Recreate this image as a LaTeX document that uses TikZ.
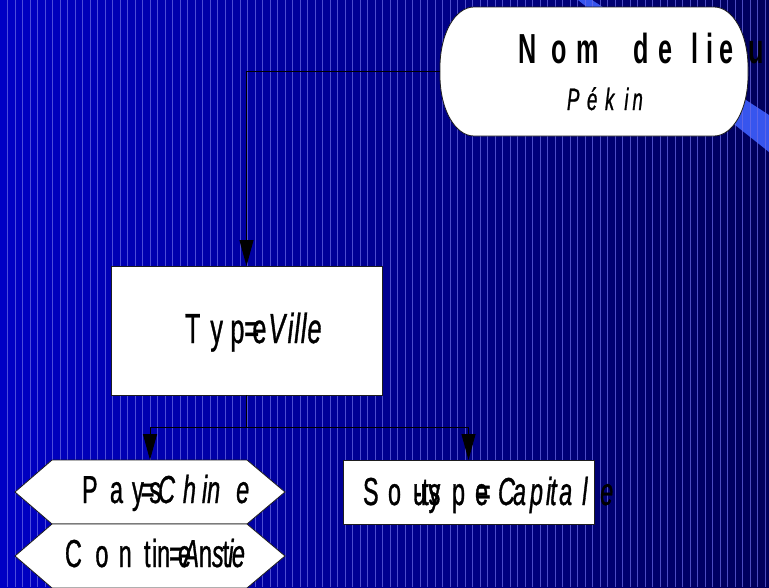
\documentclass[tikz,border=0pt]{standalone}
\usepackage{fontspec}
\usetikzlibrary{arrows.meta}
\newfontfamily\nf[FakeStretch=0.6,FakeBold=0.8]{Liberation Sans}
\newfontfamily\nfb[FakeStretch=0.6]{Liberation Sans}
\newcommand\hg[1]{\hspace{#1pt}}
\definecolor{bgL}{RGB}{0,0,196}
\definecolor{bgR}{RGB}{0,0,92}
\definecolor{stripecol}{RGB}{110,110,232}
\definecolor{wedgecol}{RGB}{55,85,238}
\definecolor{edgecol}{RGB}{30,30,30}
\begin{document}
\begin{tikzpicture}[x=1pt,y=-1pt,
  box/.style={draw=edgecol, line width=0.8pt, fill=white},
  ghost/.style={inner sep=0pt, outer sep=0pt},
  conn/.style={draw=black, line width=1pt},
  arr/.style={conn, -{Triangle[length=26pt,width=14pt]}},
  lbl/.style={anchor=base west, inner sep=0pt, outer sep=0pt, text=black},
  stripe/.style={draw=stripecol, line width=0.9pt, opacity=0.7}]
\useasboundingbox (0,0) rectangle (769,587);
% background
\shade[left color=bgL, right color=bgR] (0,0) rectangle (769,587);
\fill[wedgecol] (578,0) -- (592,0) -- (769,115) -- (769,152) -- cycle;
\foreach \i in {1,...,102} {
  \pgfmathsetmacro{\xx}{int(7.5*\i)+0.5}
  \draw[stripe] (\xx,0) -- (\xx,587);
}
% Nom de lieu box
\draw[box] (474,7) -- (714,7) .. controls (733,7) and (748,34) .. (748,67)
  -- (748,76) .. controls (748,109) and (733,136) .. (714,136)
  -- (474,136) .. controls (455,136) and (440,109) .. (440,76)
  -- (440,67) .. controls (440,34) and (455,7) .. (474,7) -- cycle;
\node[ghost, minimum width=308, minimum height=129] (nom) at (594,71.5) {};
% Type box
\node[box, ghost, minimum width=271, minimum height=129] (type) at (246.5,330.5) {};
% Pays hexagon
\draw[box] (15,492) -- (52,460) -- (247,460) -- (285,492) -- (247,524) -- (52,524) -- cycle;
\node[ghost, minimum width=270, minimum height=64] (pays) at (150,492) {};
% Continent hexagon
\draw[box] (15,556) -- (52,524) -- (247,524) -- (285,556) -- (247,588) -- (52,588) -- cycle;
\node[ghost, minimum width=270, minimum height=64] (cont) at (150,556) {};
% Sous-type box
\node[box, ghost, minimum width=251, minimum height=64] (sous) at (468.5,492) {};
% connectors
\draw[arr] (nom.west) -| (type.north);
\coordinate (split) at (246.5,427);
\draw[conn] (type.south) -- (split);
\draw[arr] (split) -| (pays.north);
\draw[arr] (split) -| (sous.north);
% texts
\node[lbl] (tnom) at (518,63) {\nfb\bfseries\fontsize{42}{42}\selectfont N\hg{15.8}o\hg{9.6}m\hg{34}d\hg{10}e\hg{19}l\hg{8}i\hg{6}e\hg{15}u};
\node[lbl] (tpek) at (567,110) {\nf\itshape\fontsize{31}{31}\selectfont P\hg{7.6}é\hg{7.7}k\hg{10}i\hg{4}n};
\node[lbl] (ttype) at (185,343) {\nf\fontsize{42}{42}\selectfont T\hg{10}y\hg{7.4}p\rlap{=}\hg{8}e\hg{2}{\itshape V\hg{2.5}i\hg{1}l\hg{1}l\hg{1}e}};
\node[lbl] (tpays) at (82,503) {\nf\fontsize{39}{39}\selectfont P\hg{12.4}a\hg{9}y\hg{-3}=\hg{-5}s\hg{-3}{\itshape C\hg{8}h\hg{6}i\hg{0}n\hg{16}e}};
\node[lbl] (tcont) at (65,567) {\nf\fontsize{39}{39}\selectfont C\hg{13.5}o\hg{10.3}n\hg{12.3}t\hg{1.5}in\hg{-1}=\hg{-5}e\hg{-7.5}{\itshape A}n{\itshape s}\hg{-1}t\hg{-1}{\itshape i}\hg{-1.5}{\itshape e}};
\node[lbl] (tsous) at (363,505) {\nf\fontsize{39}{39}\selectfont S\hg{9.4}o\hg{12}\rlap{\hg{1}-}u\hg{-4}t\rlap{s}y\hg{11.8}p\hg{10}\rlap{\hg{2}=}e\hg{10}{\itshape C\hg{-2}a\hg{4}p\hg{3}i\hg{-1}t\hg{2.5}a\hg{10}l\hg{12.8}e}};
\end{tikzpicture}
\end{document}
